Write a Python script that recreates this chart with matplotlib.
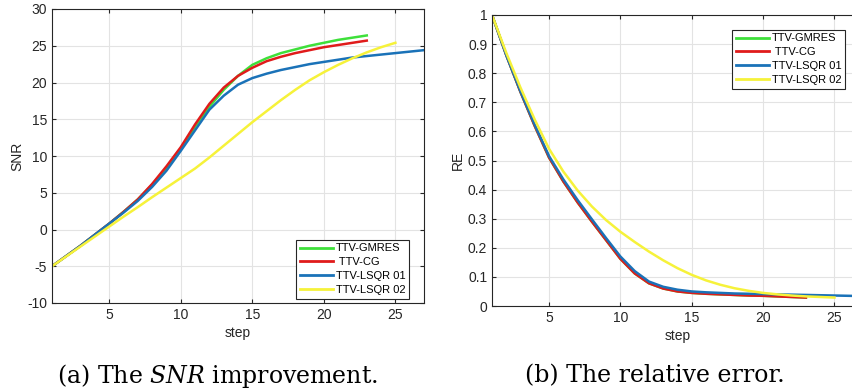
import numpy as np
import matplotlib
matplotlib.use("Agg")
import matplotlib.pyplot as plt

plt.rcParams['font.family'] = ['Liberation Sans', 'DejaVu Sans']
plt.rcParams['axes.unicode_minus'] = False
plt.rcParams['mathtext.fontset'] = 'dejavuserif'

labels = ['TTV-GMRES', ' TTV-CG', 'TTV-LSQR 01', 'TTV-LSQR 02']
colors = ['#3ee03a', '#e01b1b', '#1a72b8', '#f6f23a']

# SNR per step
snr_gmres = [-5, -3.6, -2.2, -0.7, 0.8, 2.4, 4.1, 6.1, 8.4, 11.0, 14.0, 16.7, 19.0,
             20.9, 22.4, 23.3, 24.0, 24.5, 25.0, 25.4, 25.8, 26.1, 26.4]
snr_cg = [-5, -3.6, -2.2, -0.7, 0.8, 2.4, 4.1, 6.2, 8.6, 11.2, 14.3, 17.1, 19.3,
          20.9, 22.0, 22.9, 23.5, 24.0, 24.4, 24.8, 25.1, 25.4, 25.7]
snr_lsqr1 = [-5, -3.6, -2.2, -0.7, 0.8, 2.3, 3.9, 5.8, 8.0, 10.7, 13.5, 16.3, 18.2,
             19.7, 20.6, 21.2, 21.7, 22.1, 22.5, 22.8, 23.1, 23.4, 23.6, 23.8, 24.0,
             24.2, 24.4]
snr_lsqr2 = [-5, -3.65, -2.3, -0.95, 0.4, 1.75, 3.05, 4.4, 5.7, 7.0, 8.3, 9.8, 11.4,
             13.0, 14.6, 16.1, 17.6, 19.0, 20.3, 21.4, 22.4, 23.3, 24.1, 24.8, 25.4]

# relative error per step
re_cg = [1.0, 0.862, 0.735, 0.618, 0.51, 0.428, 0.356, 0.29, 0.226, 0.162, 0.112, 0.078,
         0.06, 0.05, 0.045, 0.042, 0.04, 0.038, 0.036, 0.035, 0.033, 0.031, 0.029]
re_gmres = list(re_cg)
re_lsqr1 = [1.0, 0.862, 0.737, 0.622, 0.515, 0.435, 0.364, 0.298, 0.233, 0.17, 0.12,
            0.084, 0.066, 0.056, 0.05, 0.047, 0.045, 0.043, 0.042, 0.041, 0.04, 0.039,
            0.038, 0.037, 0.036, 0.035, 0.034]
re_lsqr2 = [1.0, 0.87, 0.75, 0.64, 0.54, 0.462, 0.397, 0.342, 0.295, 0.255, 0.22, 0.187,
            0.157, 0.13, 0.107, 0.088, 0.073, 0.061, 0.052, 0.045, 0.04, 0.036, 0.033,
            0.031, 0.029]

snr_series = [snr_gmres, snr_cg, snr_lsqr1, snr_lsqr2]
re_series = [re_gmres, re_cg, re_lsqr1, re_lsqr2]

fig = plt.figure(figsize=(8.53, 3.91), dpi=100)
ax1 = fig.add_axes([52 / 853, 88 / 391, 372 / 853, 294 / 391])
ax2 = fig.add_axes([492 / 853, 85 / 391, 371 / 853, 291 / 391])

tc = '#262626'
for ax, series in [(ax1, snr_series), (ax2, re_series)]:
    for y, c, lab in zip(series, colors, labels):
        ax.plot(np.arange(1, len(y) + 1), y, color=c, lw=1.8, label=lab)
    ax.set_xlim(1, 27)
    ax.set_xticks([5, 10, 15, 20, 25])
    ax.grid(True, color='#e3e3e3', lw=0.8)
    ax.tick_params(direction='in', labelsize=10, colors=tc, length=3,
                   top=True, right=True)
    for s in ax.spines.values():
        s.set_color(tc)
        s.set_linewidth(0.8)
    ax.set_xlabel('step', fontsize=10, color=tc, labelpad=3)

ax1.set_ylim(-10, 30)
ax1.set_yticks(range(-10, 31, 5))
ax1.set_ylabel('SNR', fontsize=10, color=tc, labelpad=2)

ax2.set_ylim(0, 1)
ax2.set_yticks(np.arange(0, 1.01, 0.1))
ax2.set_yticklabels(['0', '0.1', '0.2', '0.3', '0.4', '0.5', '0.6', '0.7', '0.8', '0.9', '1'])
ax2.set_ylabel('RE', fontsize=10, color=tc, labelpad=2)

leg_kw = dict(fontsize=8, handlelength=2.9, handletextpad=0.3, borderpad=0.35,
              labelspacing=0.35, fancybox=False, framealpha=1, edgecolor=tc)
l1 = ax1.legend(loc='upper right', bbox_to_anchor=(415 / 853, 1 - 234 / 391),
                bbox_transform=fig.transFigure, **leg_kw)
l2 = ax2.legend(loc='upper right', bbox_to_anchor=(851 / 853, 1 - 24 / 391),
                bbox_transform=fig.transFigure, **leg_kw)
for leg in (l1, l2):
    leg.get_frame().set_linewidth(0.8)
    for line in leg.get_lines():
        line.set_linewidth(2)

fig.text(218 / 853, 1 - 376 / 391, '(a) The $\\it{SNR}$ improvement.', ha='center',
         va='center', fontsize=17, family='DejaVu Serif')
fig.text(655 / 853, 1 - 376 / 391, '(b) The relative error.', ha='center',
         va='center', fontsize=17, family='DejaVu Serif')

fig.savefig('out.png', dpi=100)
